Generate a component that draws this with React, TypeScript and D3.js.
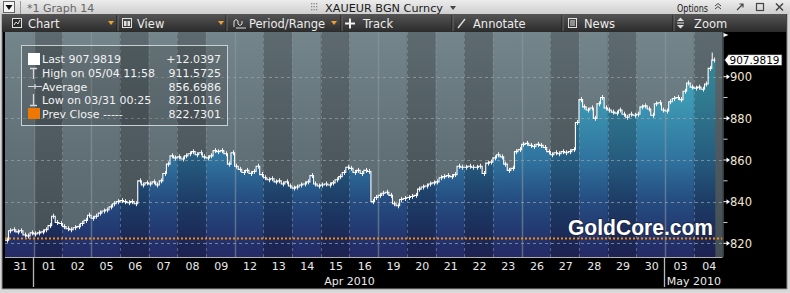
import React from 'react';
import * as d3 from 'd3';

// ---------- DATA ----------
const dayLabels = ['31','01','02','05','06','07','08','09','12','13','14','15','16','19','20','21','22','23','26','27','28','29','30','03','04'];
const dayDates = ['2010-03-31','2010-04-01','2010-04-02','2010-04-05','2010-04-06','2010-04-07','2010-04-08','2010-04-09','2010-04-12','2010-04-13','2010-04-14','2010-04-15','2010-04-16','2010-04-19','2010-04-20','2010-04-21','2010-04-22','2010-04-23','2010-04-26','2010-04-27','2010-04-28','2010-04-29','2010-04-30','2010-05-03','2010-05-04'];
const monthNames = ['Apr 2010', 'May 2010'];
const monthKeys = ['2010-04', '2010-05'];
// 3-hour steps per trading day (last day partial)
const priceByDay: number[][] = [
  [821.5, 826, 826.5, 825.5, 826, 824, 823.5, 825],
  [824.5, 825, 825.5, 826.5, 828.5, 833, 830, 829.5],
  [828, 827, 826.5, 827.5, 828, 829.5, 831, 833.5],
  [832, 833, 834.5, 835.5, 836, 837.5, 839, 840],
  [840.5, 840, 839.5, 840, 839, 850, 848, 849],
  [848.5, 849.5, 848, 850, 853.5, 858, 862, 861],
  [861.5, 860.5, 862, 863, 864, 862.5, 863.5, 861.5],
  [861, 862, 864.5, 864, 864.5, 863, 858, 863.5],
  [857, 855.5, 854, 855, 853.5, 854.5, 857, 853],
  [851.5, 850.5, 851, 849.5, 850, 848.5, 849.5, 847.5],
  [846.5, 847, 848, 848.5, 849.5, 852.5, 848.5, 847.5],
  [848, 848.5, 848, 849, 850.5, 852, 854, 856.5],
  [856, 854, 855, 853.5, 855, 854.5, 840, 842],
  [843, 844, 844.5, 843, 839, 838, 841, 841.5],
  [842, 842.5, 843, 846, 847, 847.5, 848.5, 849],
  [849.5, 851.5, 852, 852.5, 852, 853, 857, 856.5],
  [856.5, 857, 856.5, 856.5, 857, 853.5, 858.5, 859],
  [861, 862.5, 861.5, 858, 855, 856, 864, 865],
  [867.5, 868, 867, 866.5, 867.5, 867, 866, 864],
  [862.5, 863.5, 863, 864, 863.5, 864, 865, 878],
  [889, 885.5, 884, 885, 880, 887, 890, 885],
  [884, 883, 882.5, 884, 882, 880.5, 882, 881.5],
  [882, 885.5, 886, 884.5, 881.5, 887, 887.5, 884],
  [883.5, 888, 889.5, 890, 889, 893, 897, 895],
  [894.5, 895, 894, 896.5, 904, 907.9819],
];
const yTicks = [820, 840, 860, 880, 900];
const yMinorTicks = [830, 850, 870, 890];
const prevClose = 822.7301;
const lastValue = 907.9819;
const highValue = 911.5725;
const legendLabels = ['Last 907.9819', 'High on 05/04 11:58', 'Average', 'Low on 03/31 00:25', 'Prev Close -----'];
const legendValues = ['+12.0397', '911.5725', '856.6986', '821.0116', '822.7301'];
const toolbarLabels = ['Chart', 'View', 'Period/Range', 'Track', 'Annotate', 'News', 'Zoom'];

const FONT = 'DejaVu Sans, Verdana, sans-serif';

export default function App() {
  const W = 790, H = 293;
  const plot = { left: 5, right: 722.5, top: 32, bottom: 257 };
  const SPD = 8;
  const x = d3.scaleLinear().domain([0, dayLabels.length * SPD]).range([plot.left, plot.right]);
  const y = d3.scaleLinear().domain([820, 900]).range([243.3, 76.7]);

  const pts = priceByDay.flatMap((vals, i) => vals.map((v, j) => ({ s: i * SPD + j, v })));
  const lastPt = pts[pts.length - 1];
  const linePts = [...pts, { s: lastPt.s + 1, v: lastPt.v }];
  const line = d3.line<any>().x(d => x(d.s)).y(d => y(d.v)).curve(d3.curveStepAfter);
  const area = d3.area<any>().x(d => x(d.s)).y0(plot.bottom).y1(d => y(d.v)).curve(d3.curveStepAfter);

  const weekday = (s: string) => new Date(s + 'T12:00:00').getDay();
  const days = dayLabels.map((lab, i) => {
    const wd = weekday(dayDates[i]);
    const prevMonth = i > 0 ? dayDates[i - 1].slice(0, 7) : null;
    return {
      lab, i, x0: x(i * SPD), x1: x((i + 1) * SPD),
      dark: wd === 2 || wd === 4,
      strong: i > 0 && (wd === 1 || prevMonth !== dayDates[i].slice(0, 7)),
      monthStart: i > 0 && prevMonth !== dayDates[i].slice(0, 7),
    };
  });
  const months = monthKeys.map((k, mi) => {
    const idx = dayDates.map((d, i) => (d.startsWith(k) ? i : -1)).filter(i => i >= 0);
    return { name: monthNames[mi], x0: x(idx[0] * SPD), x1: x((idx[idx.length - 1] + 1) * SPD) };
  });

  // toolbar layout
  const tbText = [28, 137, 249, 363, 473, 584, 694];
  const tbDrop = [111, 221, 334];
  const tbSep = [117, 226, 341, 452, 562, 673];

  const yLast = y(lastValue);
  const yPrev = y(prevClose);
  const stepW = x(1) - x(0);

  return (
    <svg width={W} height={H} style={{ position: 'absolute', left: 0, top: 0 }} fontFamily={FONT}>
      <defs>
        <linearGradient id="bgGrad" gradientUnits="userSpaceOnUse" x1="0" y1={plot.top} x2="0" y2={plot.bottom}>
          <stop offset="0" stopColor="#75858c" />
          <stop offset="0.5" stopColor="#627178" />
          <stop offset="1" stopColor="#55636a" />
        </linearGradient>
        <linearGradient id="fillGrad" gradientUnits="userSpaceOnUse" x1="0" y1="50" x2="0" y2={plot.bottom}>
          <stop offset="0" stopColor="#45abc2" />
          <stop offset="0.24" stopColor="#3d99b3" />
          <stop offset="0.53" stopColor="#30739f" />
          <stop offset="0.72" stopColor="#254e82" />
          <stop offset="0.92" stopColor="#22326c" />
          <stop offset="1" stopColor="#262a66" />
        </linearGradient>
        <linearGradient id="titleGrad" x1="0" y1="0" x2="0" y2="1">
          <stop offset="0" stopColor="#ececec" />
          <stop offset="1" stopColor="#cfcfcf" />
        </linearGradient>
        <linearGradient id="tbGrad" x1="0" y1="0" x2="0" y2="1">
          <stop offset="0" stopColor="#555555" />
          <stop offset="1" stopColor="#2b2b2b" />
        </linearGradient>
        <clipPath id="plotClip">
          <rect x={plot.left} y={plot.top} width={plot.right - plot.left} height={plot.bottom - plot.top} />
        </clipPath>
      </defs>

      {/* frame */}
      <rect x={0} y={0} width={W} height={H} fill="#d8d8d8" />
      <rect x={2} y={14} width={785} height={275} fill="#000" />
      <line x1={2} x2={787} y1={289} y2={289} stroke="#9a9a9a" />
      <line x1={2} x2={2} y1={14} y2={289} stroke="#8a8a8a" />
      <line x1={787} x2={787} y1={14} y2={289} stroke="#8a8a8a" />

      {/* title bar */}
      <rect x={0} y={0} width={W} height={14} fill="url(#titleGrad)" />
      <rect x={3.5} y={1.5} width={11} height={11} fill="#f4f4f4" stroke="#666" />
      <path d="M5.5,5 L12.5,5 L9,10 Z" fill="#111" />
      <line x1={20.5} x2={20.5} y1={1} y2={14} stroke="#999" />
      <text x={27} y={11.5} fontSize={11} fill="#666">*1 Graph 14</text>
      {[0, 1, 2].map(r => [0, 1, 2].map(c => (
        <rect key={`g${r}${c}`} x={311 + c * 2.5} y={3 + r * 3} width={1.3} height={1.3} fill="#888" />
      )))}
      <text x={325} y={11.5} fontSize={11} fill="#1a1a1a" textLength={118} lengthAdjust="spacingAndGlyphs">XAUEUR BGN Curncy</text>
      <path d="M450,6 L456,6 L453,10 Z" fill="#444" />
      <text x={677} y={11.5} fontSize={10.5} fill="#1a1a1a" textLength={31} lengthAdjust="spacingAndGlyphs">Options</text>
      <path d="M715,6 L718,3.5 L721,6 M715,9 L718,6.5 L721,9" fill="none" stroke="#444" strokeWidth={1} />
      <path d="M737,10 L743,4 M739.5,4 L743,4 L743,7.5" fill="none" stroke="#444" strokeWidth={1.2} />
      <rect x={756.5} y={3.5} width={7} height={7} fill="none" stroke="#444" strokeWidth={1.2} />
      <path d="M776,3.5 L783,10.5 M783,3.5 L776,10.5" stroke="#444" strokeWidth={1.5} />

      {/* toolbar */}
      <rect x={2} y={14} width={784} height={18} fill="url(#tbGrad)" />
      {tbSep.map((sx, i) => (
        <g key={`sep${i}`}>
          <line x1={sx} x2={sx} y1={15} y2={31} stroke="#1c1c1c" />
          <line x1={sx + 1} x2={sx + 1} y1={15} y2={31} stroke="#6a6a6a" />
        </g>
      ))}
      {toolbarLabels.map((t, i) => (
        <text key={t} x={tbText[i]} y={28} fontSize={11.5} fill="#ececec">{t}</text>
      ))}
      {tbDrop.map((dx, i) => (
        <path key={`dd${i}`} d={`M${dx - 3},21 L${dx + 3},21 L${dx},25 Z`} fill="#f0a030" />
      ))}
      {/* toolbar icons */}
      <rect x={12.5} y={18.5} width={9} height={9} fill="#2a2a2a" stroke="#e0e0e0" />
      <path d="M14,25 L16,22 L18,24 L20,20" fill="none" stroke="#e0e0e0" />
      <rect x={122.5} y={18.5} width={9} height={9} fill="none" stroke="#e0e0e0" />
      <rect x={124} y={21} width={2.5} height={5} fill="#e0e0e0" />
      <rect x={127.5} y={21} width={2.5} height={5} fill="#e0e0e0" />
      <path d="M234,27 L234,21 Q236,18 238,21 L238,24 Q240,27 242,24 L242,21" fill="none" stroke="#e0e0e0" />
      <path d="M236,28 L246,28" stroke="#e0e0e0" />
      <path d="M350,18.5 L350,28.5 M345,23.5 L355,23.5" stroke="#f0f0f0" strokeWidth={2} />
      <path d="M458,28 L465,19" stroke="#e0e0e0" strokeWidth={1.3} />
      <rect x={568.5} y={18.5} width={8} height={9} fill="none" stroke="#e0e0e0" />
      <path d="M570,21 L575,21 M570,23 L575,23 M570,25 L575,25" stroke="#e0e0e0" />
      <path d="M677,21 L680.5,17.5 L684,21 Z M677,25 L680.5,28.5 L684,25 Z" fill="#e0e0e0" />
      <line x1={677} x2={684} y1={23} y2={23} stroke="#e0e0e0" />

      {/* plot */}
      <g clipPath="url(#plotClip)">
        <rect x={plot.left} y={plot.top} width={plot.right - plot.left} height={plot.bottom - plot.top} fill="url(#bgGrad)" />
        <path d={area(linePts) || ''} fill="url(#fillGrad)" />
        {days.filter(d => d.dark).map(d => (
          <rect key={`dk${d.i}`} x={d.x0} y={plot.top} width={d.x1 - d.x0} height={plot.bottom - plot.top} fill="#000" opacity={0.2} />
        ))}
        {yTicks.map(t => (
          <line key={`hg${t}`} x1={plot.left} x2={plot.right} y1={Math.round(y(t)) + 0.5} y2={Math.round(y(t)) + 0.5}
            stroke="#98a4aa" strokeOpacity={0.7} strokeDasharray="3,3" />
        ))}
        {days.filter(d => d.i > 0).map(d => (
          d.strong
            ? <line key={`vg${d.i}`} x1={Math.round(d.x0) + 0.5} x2={Math.round(d.x0) + 0.5} y1={plot.top} y2={plot.bottom} stroke="#8e9aa0" strokeOpacity={0.55} strokeWidth={1.5} />
            : <line key={`vg${d.i}`} x1={Math.round(d.x0) + 0.5} x2={Math.round(d.x0) + 0.5} y1={plot.top} y2={plot.bottom} stroke="#8a979d" strokeOpacity={0.55} strokeDasharray="3,3" />
        ))}
        <line x1={plot.left} x2={plot.right} y1={Math.round(yPrev) + 0.5} y2={Math.round(yPrev) + 0.5} stroke="#f58a14" strokeWidth={2} strokeDasharray="2,2" />
        <path d={line(linePts) || ''} fill="none" stroke="#ffffff" strokeWidth={1.1} />
        {/* small hi-lo ticks on each bar */}
        {pts.map((p, k) => (
          <line key={`wk${k}`} x1={Math.round(x(p.s) + stepW / 2) + 0.5} x2={Math.round(x(p.s) + stepW / 2) + 0.5}
            y1={y(p.v) - 2.5} y2={y(p.v) + 2.5} stroke="#ffffff" strokeWidth={1} strokeOpacity={0.9} />
        ))}
        {/* high whisker on last day */}
        <line x1={x(lastPt.s) + 0.5} x2={x(lastPt.s) + 0.5} y1={y(highValue)} y2={yLast} stroke="#fff" strokeWidth={1} />

        {/* legend */}
        <rect x={21.5} y={45.5} width={206} height={80} fill="#000" fillOpacity={0.14} stroke="#c8d0d4" strokeWidth={1} />
        <rect x={28} y={53} width={12} height={12} fill="#ffffff" />
        <path d="M30,68.5 L37,68.5 M33.5,68.5 L33.5,79" stroke="#d8d8d8" strokeWidth={1.3} fill="none" />
        <path d="M28,86.5 L42,86.5 M35,84 L35,89" stroke="#d8d8d8" strokeWidth={1.2} fill="none" />
        <path d="M33.5,94 L33.5,105.5 M30,105.5 L37,105.5" stroke="#d8d8d8" strokeWidth={1.3} fill="none" />
        <rect x={28} y={108} width={12} height={11} fill="#f07800" />
        {legendLabels.map((l, i) => (
          <text key={`ll${i}`} x={42} y={63 + i * 13.75} fontSize={11} fill="#f2f2f2">{l}</text>
        ))}
        {legendValues.map((v, i) => (
          <text key={`lv${i}`} x={221} y={63 + i * 13.75} fontSize={11} fill="#f2f2f2" textAnchor="end">{v}</text>
        ))}

        {/* watermark */}
        <text x={568} y={235} fontSize={22} fontWeight="bold" fontFamily="Liberation Sans, Arial, sans-serif"
          fill="#ffffff" stroke="#1a2030" strokeWidth={2} strokeOpacity={0.6} paintOrder="stroke"
          textLength={145} lengthAdjust="spacingAndGlyphs">GoldCore.com</text>
      </g>
      <line x1={plot.right + 0.5} x2={plot.right + 0.5} y1={plot.top} y2={plot.bottom} stroke="#6a7478" />
      <line x1={plot.left} x2={plot.right} y1={plot.bottom + 0.5} y2={plot.bottom + 0.5} stroke="#b0b0b0" />

      {/* right axis */}
      <path d={`M${plot.right + 1},33 L${plot.right + 6},35 L${plot.right + 1},37 Z`} fill="#fff" />
      {yMinorTicks.map(t => (
        <line key={`mt${t}`} x1={plot.right + 1} x2={plot.right + 5} y1={y(t)} y2={y(t)} stroke="#d0d0d0" />
      ))}
      {yTicks.map(t => (
        <g key={`yt${t}`}>
          <line x1={plot.right + 1} x2={plot.right + 5} y1={y(t)} y2={y(t)} stroke="#fff" />
          <path d={`M${plot.right + 4},${y(t) - 2.5} L${plot.right + 7.5},${y(t)} L${plot.right + 4},${y(t) + 2.5} Z`} fill="#fff" />
          <text x={730} y={y(t) + 4.5} fontSize={11.5} fill="#f0e6d2">{t}</text>
        </g>
      ))}
      <path d={`M${plot.right + 2},${yLast} L${plot.right + 6},${yLast - 5.5} L782,${yLast - 5.5} L782,${yLast + 5.5} L${plot.right + 6},${yLast + 5.5} Z`}
        fill="#ffffff" stroke="#222" strokeWidth={0.8} />
      <text x={729.5} y={yLast + 4.2} fontSize={11} fill="#000" textLength={50} lengthAdjust="spacingAndGlyphs">{lastValue.toFixed(4)}</text>

      {/* bottom axis */}
      {days.map(d => (
        <text key={`xl${d.i}`} x={(d.x0 + d.x1) / 2 + 1} y={270} fontSize={11} fill="#eaeaea" textAnchor="middle">{d.lab}</text>
      ))}
      {days.filter(d => d.monthStart).map(d => (
        <line key={`ms${d.i}`} x1={Math.round(d.x0) - 0.5} x2={Math.round(d.x0) - 0.5} y1={plot.bottom} y2={287} stroke="#b8b8b8" strokeWidth={1.3} />
      ))}
      {months.map(m => (
        <text key={m.name} x={Math.min((m.x0 + m.x1) / 2, 694)} y={285} fontSize={11} fill="#eaeaea" textAnchor="middle">{m.name}</text>
      ))}
    </svg>
  );
}
